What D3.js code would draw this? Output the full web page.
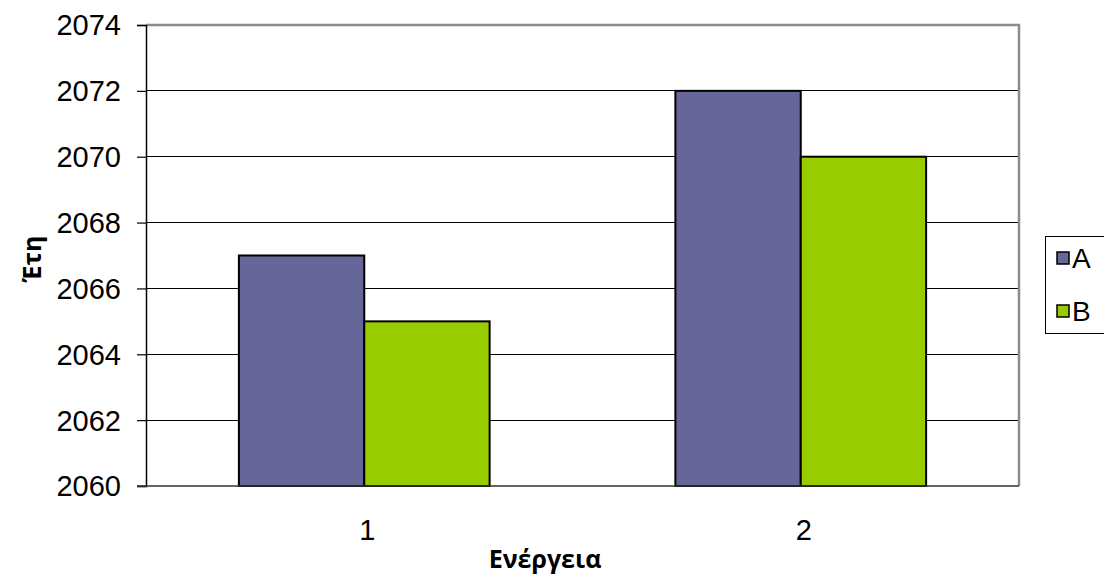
<!DOCTYPE html>
<html>
<head>
<meta charset="utf-8">
<script src="https://cdn.jsdelivr.net/npm/d3@7"></script>
<style>
  html, body { margin: 0; padding: 0; background: #fff; }
  svg { display: block; }
</style>
</head>
<body>
<svg id="chart" width="1104" height="579"></svg>
<script>
// Chart data
const categories = ["1", "2"];
const seriesNames = ["A", "B"];
const seriesA = [2067, 2072];
const seriesB = [2065, 2070];
const yTicks = [2060, 2062, 2064, 2066, 2068, 2070, 2072, 2074];
const colors = ["#666699", "#99CC00"];

const rows = categories.map((c, i) => ({ cat: c, values: [seriesA[i], seriesB[i]] }));

const svg = d3.select("#chart");
const plot = { left: 146, right: 1019, top: 25, bottom: 486 };

const x0 = d3.scaleBand()
  .domain(categories)
  .range([plot.left, plot.right])
  .paddingInner(0.4256)
  .paddingOuter(0.2128);

const x1 = d3.scaleBand()
  .domain(seriesNames)
  .range([0, x0.bandwidth()]);

const y = d3.scaleLinear()
  .domain([2060, 2074])
  .range([plot.bottom, plot.top]);

// Horizontal gridlines
svg.append("g")
  .selectAll("line")
  .data(yTicks.filter(t => t !== 2060 && t !== 2074))
  .join("line")
  .attr("x1", plot.left).attr("x2", plot.right)
  .attr("y1", d => y(d)).attr("y2", d => y(d))
  .attr("stroke", "#000").attr("stroke-width", 1)
  .attr("shape-rendering", "crispEdges");

// Plot area frame (top and right sides)
svg.append("path")
  .attr("d", `M${plot.left},${plot.top}H${plot.right}V${plot.bottom}`)
  .attr("fill", "none").attr("stroke", "#8c8c8c").attr("stroke-width", 2.5);

// Bars
const groups = svg.append("g")
  .selectAll("g")
  .data(rows)
  .join("g")
  .attr("transform", d => `translate(${x0(d.cat)},0)`);

groups.selectAll("rect")
  .data(d => d.values.map((v, i) => ({ key: seriesNames[i], value: v, i })))
  .join("rect")
  .attr("x", d => x1(d.key))
  .attr("width", x1.bandwidth())
  .attr("y", d => y(d.value))
  .attr("height", d => y(2060) - y(d.value))
  .attr("fill", d => colors[d.i])
  .attr("stroke", "#000").attr("stroke-width", 2);

// Y axis
const yAxis = svg.append("g")
  .attr("transform", `translate(${plot.left},0)`)
  .call(d3.axisLeft(y).tickValues(yTicks).tickSize(9).tickPadding(16).tickFormat(d3.format("d")));
yAxis.select(".domain").attr("stroke", "#000").attr("stroke-width", 1.5);
yAxis.selectAll(".tick line").attr("stroke", "#000").attr("stroke-width", 1.2);
yAxis.selectAll(".tick text")
  .attr("font-family", "Liberation Sans, Arial, sans-serif")
  .attr("font-size", 29).attr("fill", "#000").attr("dy", "0.34em");

// X axis baseline
svg.append("line")
  .attr("x1", plot.left - 9).attr("x2", plot.right)
  .attr("y1", plot.bottom).attr("y2", plot.bottom)
  .attr("stroke", "#333").attr("stroke-width", 1.5);

// Category labels
svg.append("g")
  .selectAll("text")
  .data(categories)
  .join("text")
  .attr("x", d => x0(d) + x0.bandwidth() / 2 + 3)
  .attr("y", 540)
  .attr("text-anchor", "middle")
  .attr("font-family", "Liberation Sans, Arial, sans-serif")
  .attr("font-size", 29).attr("fill", "#000")
  .text(d => d);

// Axis titles
svg.append("text")
  .attr("x", 545).attr("y", 568)
  .attr("text-anchor", "middle")
  .attr("font-family", "Open Sans, sans-serif")
  .attr("font-weight", "bold").attr("font-size", 25)
  .text("Ενέργεια");

svg.append("text")
  .attr("transform", "translate(41,259) rotate(-90)")
  .attr("text-anchor", "middle")
  .attr("font-family", "Open Sans, sans-serif")
  .attr("font-weight", "bold").attr("font-size", 25)
  .text("Έτη");

// Legend
const legend = svg.append("g");
legend.append("rect")
  .attr("x", 1045.5).attr("y", 236.5)
  .attr("width", 80).attr("height", 97)
  .attr("fill", "#fff").attr("stroke", "#000").attr("stroke-width", 1);

const items = legend.selectAll("g.item")
  .data(seriesNames)
  .join("g")
  .attr("class", "item")
  .attr("transform", (d, i) => `translate(1057,${252 + i * 53})`);
items.append("rect")
  .attr("width", 12).attr("height", 12)
  .attr("fill", (d, i) => colors[i])
  .attr("stroke", "#000").attr("stroke-width", 1.5);
items.append("text")
  .attr("x", 15).attr("y", 16)
  .attr("font-family", "Liberation Sans, Arial, sans-serif")
  .attr("font-size", 28).attr("fill", "#000")
  .text(d => d);
</script>
</body>
</html>
